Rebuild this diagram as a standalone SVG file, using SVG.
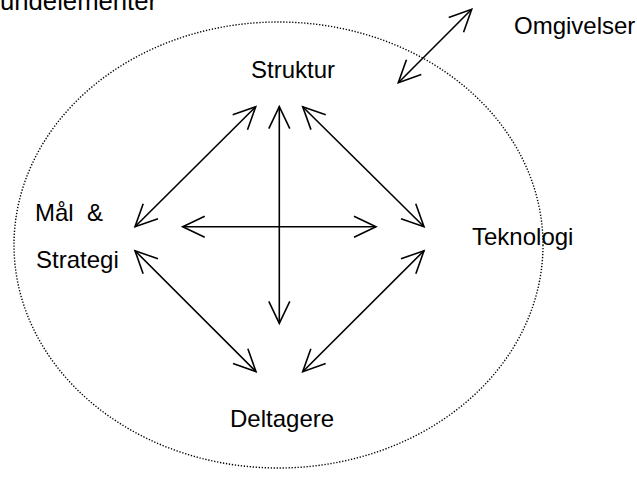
<svg xmlns="http://www.w3.org/2000/svg" width="637" height="477" viewBox="0 0 637 477">
<style>
text{font-family:"Liberation Sans",Arial,sans-serif;font-size:24px;fill:#000;white-space:pre}
.c line{stroke:#000;stroke-width:1.6;fill:none;marker-start:url(#a);marker-end:url(#a)}
</style>
<defs>
<marker id="a" viewBox="-25 -13 28 26" refX="0" refY="0" markerWidth="28" markerHeight="26" markerUnits="userSpaceOnUse" orient="auto-start-reverse">
<path d="M-22,-10.5 L0,0 L-22,10.5" fill="none" stroke="#000" stroke-width="1.6"/>
</marker>
</defs>
<rect width="637" height="477" fill="#fff"/>
<ellipse id="omgivelser-grense" cx="278.5" cy="245" rx="264.5" ry="223" fill="none" stroke="#000" stroke-width="1.4" stroke-dasharray="1.3 1.7"/>
<text id="tittel" x="0" y="9.5" style="font-size:25.7px">undelementer</text>
<g id="struktur"><text x="251" y="78">Struktur</text></g>
<g id="omgivelser"><text x="514" y="34">Omgivelser</text></g>
<g id="maal-strategi"><text x="35" y="221">Mål  &amp;</text><text x="36" y="268">Strategi</text></g>
<g id="teknologi"><text x="472" y="245">Teknologi</text></g>
<g id="deltagere"><text x="230" y="427">Deltagere</text></g>
<g id="connectors" class="c">
<line x1="279.3" y1="106.7" x2="279.3" y2="323.3"/>
<line x1="182.7" y1="226.7" x2="376" y2="226.7"/>
<line x1="255.7" y1="106.7" x2="135" y2="226.7"/>
<line x1="302.7" y1="106.7" x2="424" y2="226.7"/>
<line x1="135" y1="250.7" x2="256" y2="371.7"/>
<line x1="424" y1="250.7" x2="302.7" y2="371.7"/>
<line x1="471.7" y1="9.3" x2="398.3" y2="82.7"/>
</g>
</svg>
